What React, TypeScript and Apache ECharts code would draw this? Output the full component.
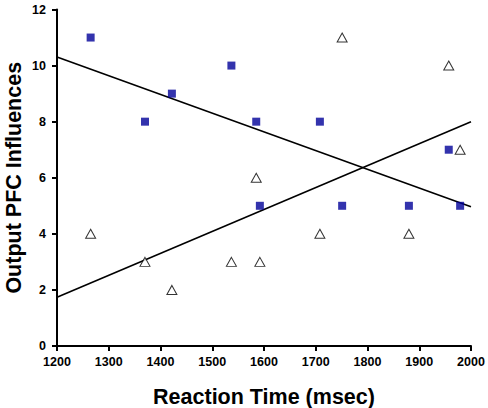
import React, { useEffect, useRef } from "react";
import * as echarts from "echarts";

const reactionTimes = [1265, 1370, 1422, 1537, 1585, 1592, 1708, 1751, 1880, 1957, 1979];
const squareValues = [11, 8, 9, 10, 8, 5, 8, 5, 5, 7, 5];
const triangleValues = [4, 3, 2, 3, 6, 3, 4, 11, 4, 10, 7];
const xRange = [1200, 2000];

function regressionLine(xs: number[], ys: number[]): number[][] {
  const n = xs.length;
  const mx = xs.reduce((a, b) => a + b, 0) / n;
  const my = ys.reduce((a, b) => a + b, 0) / n;
  let sxy = 0;
  let sxx = 0;
  for (let i = 0; i < n; i++) {
    sxy += (xs[i] - mx) * (ys[i] - my);
    sxx += (xs[i] - mx) * (xs[i] - mx);
  }
  const slope = sxy / sxx;
  const b = my - slope * mx;
  return xRange.map((x) => [x, slope * x + b]);
}

export default function App() {
  const ref = useRef<HTMLDivElement>(null);
  useEffect(() => {
    if (!ref.current) return;
    const chart = echarts.init(ref.current, null, { renderer: "svg" });
    const font = "Arial, 'Liberation Sans', sans-serif";
    const nameStyle = { fontFamily: font, fontWeight: "bold", fontSize: 21.5, lineHeight: 20, color: "#000" };
    chart.setOption({
      animation: false,
      backgroundColor: "#ffffff",
      grid: { left: 57, right: 17, top: 9.5, bottom: 62, containLabel: false, outerBoundsMode: "none" },
      xAxis: {
        type: "value",
        min: 1200,
        max: 2000,
        interval: 100,
        name: "Reaction Time (msec)",
        nameLocation: "middle",
        nameGap: 41,
        nameMoveOverlap: false,
        nameTextStyle: nameStyle,
        axisLine: { show: true, lineStyle: { color: "#000", width: 2 } },
        axisTick: { show: true, length: 5, lineStyle: { color: "#000", width: 2 } },
        axisLabel: {
          fontFamily: font,
          fontWeight: "bold",
          fontSize: 12.5,
          color: "#000",
          margin: 9,
          formatter: (v: number) => String(v),
        },
        splitLine: { show: false },
      },
      yAxis: {
        type: "value",
        min: 0,
        max: 12,
        interval: 2,
        name: "Output PFC Influences",
        nameLocation: "middle",
        nameGap: 33,
        nameMoveOverlap: false,
        nameTextStyle: nameStyle,
        axisLine: { show: true, lineStyle: { color: "#000", width: 2 } },
        axisTick: { show: true, length: 5, lineStyle: { color: "#000", width: 2 } },
        axisLabel: { fontFamily: font, fontWeight: "bold", fontSize: 12.5, color: "#000", margin: 11 },
        splitLine: { show: false },
      },
      series: [
        {
          type: "line",
          data: regressionLine(reactionTimes, squareValues),
          symbol: "none",
          lineStyle: { color: "#000", width: 1.6 },
          z: 1,
        },
        {
          type: "line",
          data: regressionLine(reactionTimes, triangleValues),
          symbol: "none",
          lineStyle: { color: "#000", width: 1.6 },
          z: 1,
        },
        {
          type: "scatter",
          data: reactionTimes.map((x, i) => [x, squareValues[i]]),
          symbol: "rect",
          symbolSize: 8,
          itemStyle: { color: "#000099" },
          z: 3,
        },
        {
          type: "scatter",
          data: reactionTimes.map((x, i) => [x, triangleValues[i]]),
          symbol: "triangle",
          symbolSize: [10, 9],
          itemStyle: { color: "#ffffff", borderColor: "#000", borderWidth: 1 },
          z: 3,
        },
      ],
    });
    return () => chart.dispose();
  }, []);
  return <div ref={ref} style={{ width: 488, height: 408, position: "absolute", left: 0, top: 0 }} />;
}
